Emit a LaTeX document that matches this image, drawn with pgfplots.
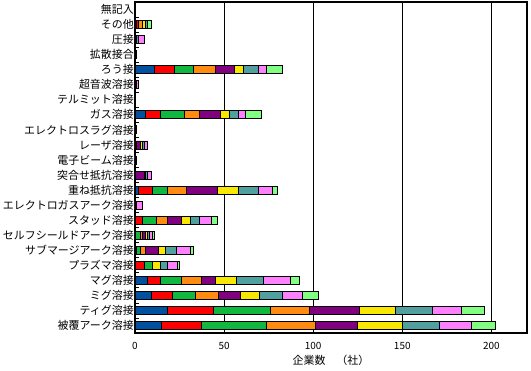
\documentclass[border=0pt]{standalone}
\usepackage{pgfplots}
\usepackage{pgfplotstable}
\pgfplotsset{compat=1.18}
\usepackage{fontspec}
\setmainfont{Noto Sans CJK JP}
\definecolor{cb}{RGB}{0,82,160}
\definecolor{cr}{RGB}{255,0,0}
\definecolor{cg}{RGB}{16,184,64}
\definecolor{co}{RGB}{255,140,16}
\definecolor{cp}{RGB}{128,0,128}
\definecolor{cy}{RGB}{248,232,0}
\definecolor{ct}{RGB}{80,160,160}
\definecolor{ck}{RGB}{255,128,255}
\definecolor{cl}{RGB}{128,255,128}
\pgfplotstableread{
y b r g o p yl t k l
0 15 22 37 27 24 25 21 18 13
1 18 26 32 22 28 20 21 16 13
2 9 12 13 13 12 11 13 11 9
3 7 7 12 11 8 12 15 15 5
4 0 5 5 0 0 4 4 6 1
5 1 0 2 3 7 4 6 8 2
6 0 0 3 1 2 1 1 2 1
7 0 4 8 6 8 5 5 7 3
8 0 0 0 0 0 1 0 3 0
9 2 8 8 11 17 12 11 8 3
10 0 0 0 0 5 1 1 2 0
11 0 0 0 0 0 0 0 1 0
12 0 0 0 1 2 1 1 2 0
13 0 0 0 0 0 0 0 1 0
14 6 8 14 8 12 5 5 4 9
15 0 0 0 0 0 0 0 0 0
16 0 0 0 0 1 0 0 1 0
17 11 11 11 12 11 5 8 5 9
18 0 0 1 0 0 0 0 0 0
19 0 1 0 0 0 0 1 3 0
20 1 1 0 2 0 2 1 0 2
21 0 0 0 0 0 0 0 0 0
}\data
\begin{document}
\begin{tikzpicture}
\begin{axis}[
  scale only axis, width=392bp, height=331bp,
  xbar stacked, bar width=8bp,
  xmin=0, xmax=220, ymin=-0.5, ymax=21.5,
  xtick={0,50,100,150,200},
  ytick={0,...,21},
  yticklabels={被覆アーク溶接,ティグ溶接,ミグ溶接,マグ溶接,プラズマ溶接,サブマージアーク溶接,セルフシールドアーク溶接,スタッド溶接,エレクトロガスアーク溶接,重ね抵抗溶接,突合せ抵抗溶接,電子ビーム溶接,レーザ溶接,エレクトロスラグ溶接,ガス溶接,テルミット溶接,超音波溶接,ろう接,拡散接合,圧接,その他,無記入},
  minor y tick num=1,
  major tick length=0pt, minor tick length=4bp, tick align=inside,
  ytick pos=left, xtick pos=bottom,
  xmajorgrids, major grid style={black, line width=0.8bp},
  minor tick style={black, line width=0.8bp},
  axis line style={line width=1.2bp},
  /pgf/number format/assume math mode=true,
  yticklabel style={font=\fontsize{11}{12}\selectfont, inner xsep=1bp},
  xticklabel style={font=\fontsize{10}{12}\selectfont, yshift=-6bp},
  xlabel={企業数　（社）},
  xlabel style={font=\fontsize{11}{12}\selectfont, yshift=2bp},
  every axis plot/.append style={draw=black, line width=0.8bp},
]
\addplot[fill=cb] table[x=b, y=y] {\data};
\addplot[fill=cr] table[x=r, y=y] {\data};
\addplot[fill=cg] table[x=g, y=y] {\data};
\addplot[fill=co] table[x=o, y=y] {\data};
\addplot[fill=cp] table[x=p, y=y] {\data};
\addplot[fill=cy] table[x=yl, y=y] {\data};
\addplot[fill=ct] table[x=t, y=y] {\data};
\addplot[fill=ck] table[x=k, y=y] {\data};
\addplot[fill=cl] table[x=l, y=y] {\data};
\end{axis}
\path ([shift={(-135bp,-38bp)}]current axis.south west) rectangle ([shift={(4bp,2bp)}]current axis.north east);
\end{tikzpicture}
\end{document}
